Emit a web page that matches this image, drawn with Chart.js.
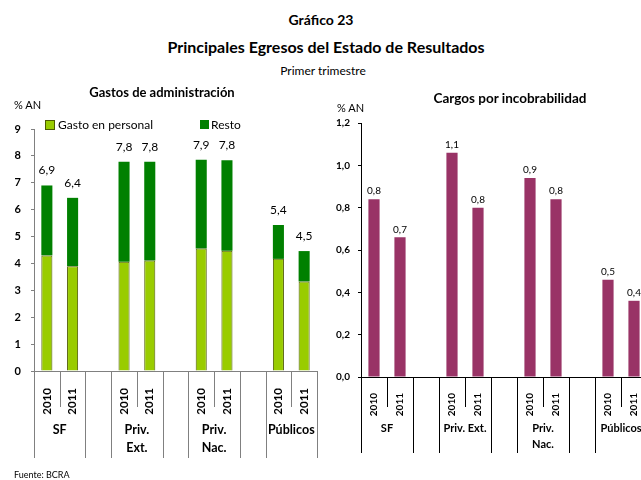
<!DOCTYPE html>
<html>
<head>
<meta charset="utf-8">
<script src="https://cdn.jsdelivr.net/npm/chart.js@4"></script>
<style>
html, body { margin: 0; padding: 0; overflow: hidden; background: #fff; }
body { width: 641px; height: 480px; position: relative; font-family: Lato, sans-serif; color: #000; }
canvas { position: absolute; top: 80px; }
#left { left: 0; }
#right { left: 330px; }
.t { position: absolute; white-space: nowrap; line-height: 1; transform: translateY(-50%); }
.c { transform: translate(-50%, -50%); }
.b { font-weight: bold; }
.box { position: absolute; width: 8px; height: 8px; }
</style>
</head>
<body>
<canvas id="left" width="330" height="390"></canvas>
<canvas id="right" width="340" height="390"></canvas>

<div class="t c b" style="left:321px;top:20px;font-size:14px">Gráfico 23</div>
<div class="t c b" style="left:326px;top:47px;font-size:16px">Principales Egresos del Estado de Resultados</div>
<div class="t c" style="left:323px;top:71px;font-size:12px">Primer trimestre</div>

<div class="t c b" style="left:162px;top:92px;font-size:13px">Gastos de administración</div>
<div class="t" style="left:14px;top:104px;font-size:11px">% AN</div>
<div class="box" style="left:45px;top:120px;background:#99cc00;border:1px solid #4d5a00"></div>
<div class="t" style="left:58px;top:125px;font-size:12px">Gasto en personal</div>
<div class="box" style="left:200px;top:120px;width:9px;height:9px;background:#008000"></div>
<div class="t" style="left:211px;top:125px;font-size:12px">Resto</div>

<div class="t c b" style="left:510px;top:99px;font-size:13.5px">Cargos por incobrabilidad</div>
<div class="t" style="left:337px;top:107px;font-size:11px">% AN</div>

<div class="t" style="left:14px;top:474px;font-size:9px">Fuente: BCRA</div>

<script>
// datos
const years = ['2010', '2011'];
const groupsLeft = [['SF'], ['Priv.', 'Ext.'], ['Priv.', 'Nac.'], ['Públicos']];
const groupsRight = [['SF'], ['Priv. Ext.'], ['Priv.', 'Nac.'], ['Públicos']];
const gastoPersonal = [4.30, 3.90, 4.06, 4.11, 4.56, 4.47, 4.17, 3.33];
const resto = [2.60, 2.54, 3.72, 3.67, 3.30, 3.37, 1.26, 1.13];
const incobrabilidad = [0.84, 0.66, 1.06, 0.80, 0.94, 0.84, 0.46, 0.36];

Chart.defaults.font.family = 'Lato, sans-serif';
Chart.defaults.color = '#000';

// mete un hueco vacio entre cada grupo de dos años
function spread(arr, blank) {
  const out = [];
  arr.forEach((v, i) => {
    out.push(v);
    if (i % 2 === 1 && i < arr.length - 1) out.push(blank);
  });
  return out;
}
const fmt = v => v.toFixed(1).replace('.', ',');

const slotLabels = spread(groupsLeft.flatMap(() => years), '');
const totales = spread(gastoPersonal.map((v, i) => v + resto[i]), null);

const decor = {
  id: 'decor',
  afterDraw(chart, args, o) {
    const ctx = chart.ctx, x = chart.scales.x, y0 = chart.scales.y.bottom;
    const n = x.ticks.length, slot = (x.right - x.left) / n;
    ctx.save();
    ctx.strokeStyle = o.lineColor;
    ctx.lineWidth = 1;
    for (let i = 0; i <= n; i++) {
      const px = Math.round(x.left + i * slot) + 0.5;
      const len = i % 3 === 1 ? o.shortLen : o.longLen;
      ctx.beginPath();
      ctx.moveTo(px, y0);
      ctx.lineTo(px, y0 + len);
      ctx.stroke();
    }
    ctx.fillStyle = '#000';
    ctx.textAlign = 'center';
    ctx.textBaseline = 'middle';
    ctx.font = o.groupFont;
    o.groups.forEach((lines, g) => {
      const cx = x.left + (3 * g + 1) * slot;
      lines.forEach((t, k) => ctx.fillText(t, cx, y0 + o.groupTop + k * o.groupLine));
    });
    ctx.font = o.valueFont;
    ctx.textBaseline = 'bottom';
    const meta = chart.getDatasetMeta(chart.data.datasets.length - 1);
    meta.data.forEach((bar, i) => {
      const v = o.values[i];
      if (v == null) return;
      ctx.fillText(fmt(v), bar.x, bar.y - o.gap);
    });
    ctx.restore();
  }
};

new Chart(document.getElementById('left'), {
  type: 'bar',
  data: {
    labels: slotLabels,
    datasets: [
      {
        label: 'Gasto en personal',
        data: spread(gastoPersonal, null),
        backgroundColor: '#99cc00',
        borderColor: '#4d5a00',
        borderWidth: 1,
        borderSkipped: 'bottom'
      },
      {
        label: 'Resto',
        data: spread(resto, null),
        backgroundColor: '#008000'
      }
    ]
  },
  options: {
    responsive: false,
    animation: false,
    layout: { padding: { top: 49, right: 13, left: 0, bottom: 0 } },
    datasets: { bar: { categoryPercentage: 1, barPercentage: 0.43 } },
    plugins: {
      legend: { display: false },
      tooltip: { enabled: false },
      decor: {
        lineColor: '#808080', shortLen: 36, longLen: 87,
        groups: groupsLeft, groupFont: 'bold 12.5px Lato', groupTop: 59, groupLine: 18,
        values: totales, valueFont: '12px Lato', gap: 9
      }
    },
    scales: {
      x: {
        stacked: true,
        afterFit(s) { s.height = 99; },
        grid: { display: false },
        border: { color: '#808080' },
        ticks: { autoSkip: false, minRotation: 90, maxRotation: 90, padding: 9, font: { size: 11.5, weight: 'bold' } }
      },
      y: {
        stacked: true,
        min: 0, max: 9,
        afterFit(s) { s.width = 34; },
        grid: { drawOnChartArea: false, tickLength: 3, color: '#808080' },
        border: { color: '#808080' },
        ticks: { stepSize: 1, padding: 10, font: { size: 11, weight: 'bold' } }
      }
    }
  },
  plugins: [decor]
});

new Chart(document.getElementById('right'), {
  type: 'bar',
  data: {
    labels: slotLabels,
    datasets: [
      {
        label: 'Cargos por incobrabilidad',
        data: spread(incobrabilidad, null),
        backgroundColor: '#993366'
      }
    ]
  },
  options: {
    responsive: false,
    animation: false,
    layout: { padding: { top: 43, right: 23, left: 0, bottom: 0 } },
    datasets: { bar: { categoryPercentage: 1, barPercentage: 0.43 } },
    plugins: {
      legend: { display: false },
      tooltip: { enabled: false },
      decor: {
        lineColor: '#000', shortLen: 30, longLen: 76,
        groups: groupsRight, groupFont: 'bold 11px Lato', groupTop: 51, groupLine: 16,
        values: spread(incobrabilidad, null), valueFont: '10px Lato', gap: 3
      }
    },
    scales: {
      x: {
        afterFit(s) { s.height = 93; },
        grid: { display: false },
        border: { color: '#000' },
        ticks: { autoSkip: false, minRotation: 90, maxRotation: 90, padding: 8, font: { size: 10, weight: 'bold' } }
      },
      y: {
        min: 0, max: 1.2,
        afterFit(s) { s.width = 31; },
        grid: { drawOnChartArea: false, tickLength: 3, color: '#000' },
        border: { color: '#000' },
        ticks: { stepSize: 0.2, padding: 8, font: { size: 10, weight: 'bold' }, callback: v => fmt(v) }
      }
    }
  },
  plugins: [decor]
});
</script>
</body>
</html>
